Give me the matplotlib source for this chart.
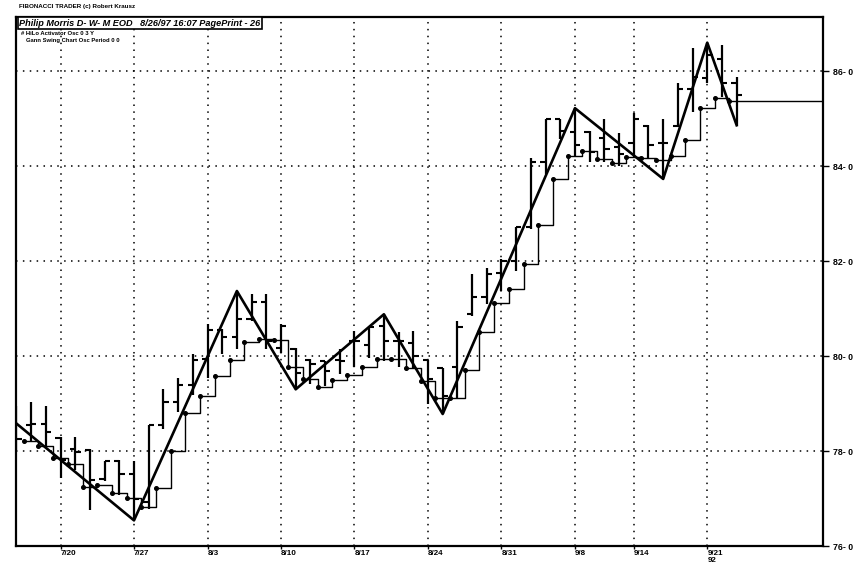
import numpy as np
import matplotlib
matplotlib.use("Agg")
import matplotlib.pyplot as plt

plt.rcParams["font.family"] = ["Liberation Sans", "DejaVu Sans"]

# trading days (1992)
dates = [
    "7/15", "7/16", "7/17",
    "7/20", "7/21", "7/22", "7/23", "7/24",
    "7/27", "7/28", "7/29", "7/30", "7/31",
    "8/3", "8/4", "8/5", "8/6", "8/7",
    "8/10", "8/11", "8/12", "8/13", "8/14",
    "8/17", "8/18", "8/19", "8/20", "8/21",
    "8/24", "8/25", "8/26", "8/27", "8/28",
    "8/31", "9/1", "9/2", "9/3", "9/4",
    "9/8", "9/9", "9/10", "9/11",
    "9/14", "9/15", "9/16", "9/17", "9/18",
    "9/21", "9/22", "9/23",
]
opens = [78.94, 78.54, 78.56, 78.28, 78.05, 78.03, 77.42, 77.78, 77.52, 76.93,
         78.54, 79.04, 79.40, 79.93, 80.55, 80.40, 80.78, 81.14, 80.16, 80.14,
         79.91, 79.89, 79.91, 80.31, 80.23, 80.63, 80.31, 80.27, 79.91, 79.74,
         79.76, 80.88, 81.24, 81.75, 82.00, 82.72, 84.08, 84.99, 84.71, 84.72,
         84.60, 84.40, 84.48, 84.84, 84.48, 84.85, 85.62, 85.85, 86.25, 85.75]
highs = [78.94, 79.04, 78.94, 78.30, 78.30, 78.05, 77.80, 77.82, 77.78, 78.54,
         79.30, 79.53, 80.04, 80.67, 80.57, 81.37, 81.30, 81.30, 80.67, 80.16,
         79.93, 79.89, 80.14, 80.52, 80.61, 80.88, 80.50, 80.52, 79.91, 79.74,
         80.74, 81.73, 81.86, 82.05, 82.72, 84.18, 84.99, 84.99, 85.22, 84.75,
         85.00, 84.70, 85.11, 84.86, 84.99, 85.75, 86.49, 86.60, 86.55, 85.87]
lows = [78.03, 78.18, 78.09, 77.44, 77.61, 76.76, 77.37, 77.08, 76.55, 76.78,
        78.47, 78.83, 79.19, 79.53, 80.04, 80.14, 80.74, 80.14, 80.06, 79.30,
        79.42, 79.36, 79.62, 79.78, 79.95, 79.89, 79.78, 79.72, 79.00, 78.77,
        79.11, 80.84, 81.10, 81.37, 81.80, 82.68, 83.84, 84.58, 84.22, 84.08,
        84.08, 84.00, 84.18, 84.16, 83.73, 84.82, 85.13, 85.75, 85.45, 84.86]
closes = [78.26, 78.56, 78.41, 77.82, 77.99, 77.40, 77.80, 77.52, 76.99, 78.54,
          79.04, 79.40, 79.91, 80.55, 80.40, 80.78, 81.14, 80.31, 80.63, 79.64,
          79.83, 79.68, 79.89, 80.31, 80.61, 80.31, 80.31, 80.00, 79.51, 79.15,
          80.61, 81.24, 81.73, 82.00, 82.72, 84.08, 84.99, 84.75, 84.44, 84.30,
          84.37, 84.25, 85.00, 84.45, 84.48, 85.62, 85.87, 86.34, 85.75, 85.49]

# HiLo activator step line (one value per bar, last bar has none)
hilo = [78.21, 78.11, 77.85, 77.72, 77.25, 77.28, 77.11, 77.01, 76.82, 77.23,
        78.00, 78.80, 79.15, 79.59, 79.91, 80.30, 80.35, 80.33, 79.78, 79.52,
        79.34, 79.49, 79.60, 79.78, 79.94, 79.93, 79.75, 79.48, 79.11, 79.11,
        79.71, 80.50, 81.12, 81.42, 81.93, 82.77, 83.72, 84.22, 84.32, 84.15,
        84.06, 84.19, 84.18, 84.12, 84.21, 84.56, 85.23, 85.44, 85.37]

# Gann swing chart turning points
swing_dates = ["7/15", "7/27", "8/5", "8/11", "8/19", "8/25", "9/8", "9/16", "9/21", "9/23"]
swing_vals = [78.58, 76.54, 81.37, 79.30, 80.88, 78.78, 85.22, 83.73, 86.60, 84.86]

week_ticks = ["7/20", "7/27", "8/3", "8/10", "8/17", "8/24", "8/31", "9/8", "9/14", "9/21"]
price_ticks = [76, 78, 80, 82, 84, 86]

fig = plt.figure(figsize=(8.68, 5.65), dpi=100)
ax = fig.add_axes([0.0184, 0.0336, 0.9297, 0.9363])

x = np.arange(len(dates))
xmin, xmax = -0.03, 54.87
ax.set_xlim(xmin, xmax)
ax.set_ylim(76, 87.14)

# grid
wx = [dates.index(d) for d in week_ticks]
for v in wx:
    ax.axvline(v, color="black", lw=1.1, ls=(0, (1, 3.5)), zorder=1)
for p in price_ticks[1:]:
    ax.axhline(p, color="black", lw=1.1, ls=(0, (1, 3.5)), zorder=1)

# OHLC bars
tl = 0.36
ax.vlines(x, lows, highs, color="black", lw=1.6, zorder=3)
ax.hlines(opens, x - tl, x, color="black", lw=1.5, zorder=3)
ax.hlines(closes, x, x + tl, color="black", lw=1.5, zorder=3)

# step line with dots
hx = np.arange(len(hilo)) + 0.5
sx = np.append(hx, xmax)
sy = np.append(hilo, hilo[-1])
ax.step(sx, sy, where="post", color="black", lw=1.0, zorder=4)
ax.plot(hx, hilo, "o", color="black", ms=2.6, zorder=4)

# swing chart
sxs = [dates.index(d) for d in swing_dates]
ax.plot(sxs, swing_vals, color="black", lw=1.9, zorder=5)

# axes
for s in ax.spines.values():
    s.set_linewidth(1.6)
ax.yaxis.tick_right()
ax.set_yticks(price_ticks)
ax.set_yticklabels([f"{p}- 0" for p in price_ticks], fontsize=6.3, fontweight="bold")
ax.tick_params(axis="y", length=4, width=1, pad=3)
ax.set_xticks(wx)
labels = [d if d != "9/21" else "9/21\n92" for d in week_ticks]
ax.set_xticklabels(labels, fontsize=5.8, fontweight="bold", linespacing=0.95)
ax.tick_params(axis="x", length=2, width=1, pad=1)
for lab in ax.get_xticklabels():
    lab.set_horizontalalignment("left")
    lab.set_verticalalignment("top")

# header texts
fig.text(0.022, 0.988, "FIBONACCI TRADER (c) Robert Krausz", fontsize=4.5,
         fontweight="bold", va="center", ha="left")
fig.text(0.022, 0.959, "Philip Morris D- W- M EOD   8/26/97 16:07 PagePrint - 26",
         fontsize=6.6, fontweight="bold", style="italic", va="center", ha="left",
         bbox=dict(boxstyle="square,pad=0.15", fc="white", ec="black", lw=1.2),
         zorder=10)
fig.text(0.024, 0.940, "# HiLo Activator Osc 0 3 Y", fontsize=4.2, fontweight="bold",
         va="center", ha="left")
fig.text(0.030, 0.928, "Gann Swing Chart Osc Period 0 0", fontsize=4.2,
         fontweight="bold", va="center", ha="left")

fig.savefig("out.png", dpi=100)
